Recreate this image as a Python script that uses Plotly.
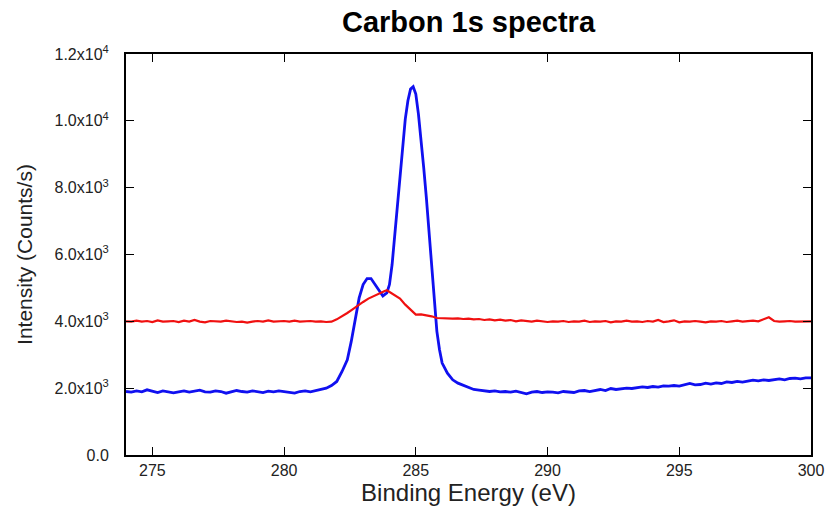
import plotly.graph_objects as go

# ---- data ----
blue_energy = [
    274.0, 274.2, 274.4, 274.6, 274.8, 275.0, 275.2, 275.4, 275.6, 275.8,
    276.0, 276.2, 276.4, 276.6, 276.8, 277.0, 277.2, 277.4, 277.6, 277.8,
    278.0, 278.2, 278.4, 278.6, 278.8, 279.0, 279.2, 279.4, 279.6, 279.8,
    280.0, 280.2, 280.4, 280.6, 280.8, 281.0, 281.2, 281.4, 281.6, 281.8,
    282.0, 282.2, 282.4, 282.55, 282.7, 282.85, 283.0, 283.15, 283.3, 283.45,
    283.6, 283.75, 283.9, 284.0, 284.1, 284.2, 284.3, 284.4, 284.5, 284.6,
    284.7, 284.8, 284.9, 285.0, 285.1, 285.2, 285.3, 285.4, 285.5, 285.6,
    285.7, 285.8, 285.9, 286.0, 286.2, 286.4, 286.6, 286.8, 287.0, 287.2,
    287.4, 287.6, 287.8, 288.0, 288.2, 288.4, 288.6, 288.8, 289.0, 289.2,
    289.4, 289.6, 289.8, 290.0, 290.2, 290.4, 290.6, 290.8, 291.0, 291.2,
    291.4, 291.6, 291.8, 292.0, 292.2, 292.4, 292.6, 292.8, 293.0, 293.2,
    293.4, 293.6, 293.8, 294.0, 294.2, 294.4, 294.6, 294.8, 295.0, 295.2,
    295.4, 295.6, 295.8, 296.0, 296.2, 296.4, 296.6, 296.8, 297.0, 297.2,
    297.4, 297.6, 297.8, 298.0, 298.2, 298.4, 298.6, 298.8, 299.0, 299.2,
    299.4, 299.6, 299.8, 300.0,
]
blue_counts = [
    1900, 1880, 1920, 1890, 1950, 1900, 1870, 1920, 1900, 1860,
    1890, 1920, 1880, 1900, 1940, 1890, 1880, 1920, 1900, 1850,
    1890, 1930, 1900, 1880, 1920, 1900, 1870, 1910, 1890, 1920,
    1900, 1880, 1850, 1900, 1920, 1890, 1930, 1960, 2000, 2080,
    2200, 2500, 2850, 3400, 4050, 4700, 5100, 5280, 5280, 5100,
    4900, 4760, 4850, 5100, 5700, 6540, 7400, 8340, 9200, 10050,
    10600, 10950, 11020, 10800, 10200, 9450, 8600, 7700, 6700, 5600,
    4500, 3700, 3150, 2750, 2450, 2250, 2150, 2080, 2020, 1960,
    1940, 1910, 1900, 1920, 1890, 1900, 1880, 1910, 1870, 1830,
    1880, 1900, 1870, 1890, 1880, 1860, 1900, 1890, 1870, 1920,
    1930, 1900, 1940, 1960, 1930, 1990, 1960, 1980, 2000, 1990,
    2010, 2040, 2020, 2050, 2030, 2070, 2060, 2080, 2060, 2090,
    2140, 2100, 2110, 2150, 2120, 2160, 2140, 2190, 2170, 2200,
    2180, 2210, 2240, 2220, 2250, 2230, 2260, 2280, 2250, 2290,
    2300, 2280, 2310, 2310,
]

red_energy = [
    274.0, 274.2, 274.4, 274.6, 274.8, 275.0, 275.2, 275.4, 275.6, 275.8,
    276.0, 276.2, 276.4, 276.6, 276.8, 277.0, 277.2, 277.4, 277.6, 277.8,
    278.0, 278.2, 278.4, 278.6, 278.8, 279.0, 279.2, 279.4, 279.6, 279.8,
    280.0, 280.2, 280.4, 280.6, 280.8, 281.0, 281.2, 281.4, 281.6, 281.8,
    282.0, 282.2, 282.4, 282.6, 282.8, 283.0, 283.2, 283.4, 283.6, 283.8,
    283.9, 284.0, 284.2, 284.4, 284.6, 284.8, 285.0, 285.2, 285.4, 285.6,
    285.8, 286.0, 286.2, 286.4, 286.6, 286.8, 287.0, 287.2, 287.4, 287.6,
    287.8, 288.0, 288.2, 288.4, 288.6, 288.8, 289.0, 289.2, 289.4, 289.6,
    289.8, 290.0, 290.2, 290.4, 290.6, 290.8, 291.0, 291.2, 291.4, 291.6,
    291.8, 292.0, 292.2, 292.4, 292.6, 292.8, 293.0, 293.2, 293.4, 293.6,
    293.8, 294.0, 294.2, 294.4, 294.6, 294.8, 295.0, 295.2, 295.4, 295.6,
    295.8, 296.0, 296.2, 296.4, 296.6, 296.8, 297.0, 297.2, 297.4, 297.6,
    297.8, 298.0, 298.2, 298.4, 298.6, 298.8, 299.0, 299.2, 299.4, 299.6,
    299.8, 300.0,
]
red_counts = [
    4000, 3990, 4020, 3990, 4010, 3980, 4030, 3990, 4000, 4010,
    3980, 4020, 3990, 4040, 3990, 3970, 4010, 4000, 3990, 4020,
    4000, 3980, 3990, 3960, 3990, 4010, 3990, 4030, 3990, 4000,
    4010, 3990, 4020, 3990, 4000, 4010, 3990, 4000, 3980, 3990,
    4060, 4150, 4250, 4360, 4480, 4580, 4680, 4760, 4840, 4900,
    4930, 4880, 4760, 4680, 4500, 4350, 4200, 4210, 4190, 4150,
    4100, 4090, 4100, 4080, 4090, 4070, 4080, 4060, 4070, 4040,
    4060, 4030, 4050, 4020, 4040, 4000, 4030, 4010, 3990, 4020,
    4000, 3980, 4000, 3990, 4010, 3980, 4000, 3990, 4020, 3980,
    4000, 3990, 4010, 3970, 4000, 3990, 4020, 3990, 4000, 3980,
    4010, 3990, 4040, 3980, 4000, 4030, 3970, 4000, 3990, 4010,
    3990, 3970, 4000, 3990, 4010, 3980, 4000, 4020, 3990, 4000,
    4020, 4000, 4060, 4120, 4010, 3990, 4000, 4010, 3990, 4000,
    3990, 4000,
]

y_tick_vals = [0, 2000, 4000, 6000, 8000, 10000, 12000]
y_tick_text = ["0.0", "2.0x10<sup>3</sup>", "4.0x10<sup>3</sup>", "6.0x10<sup>3</sup>",
               "8.0x10<sup>3</sup>", "1.0x10<sup>4</sup>", "1.2x10<sup>4</sup>"]
x_tick_vals = [275, 280, 285, 290, 295, 300]

fig = go.Figure()
fig.add_trace(go.Scatter(x=blue_energy, y=blue_counts, mode="lines",
                         line=dict(color="#1010F0", width=2.8), showlegend=False))
fig.add_trace(go.Scatter(x=red_energy, y=red_counts, mode="lines",
                         line=dict(color="#F01010", width=2.2), showlegend=False))

axis_common = dict(showline=True, linecolor="black", linewidth=2, mirror="ticks",
                   ticks="inside", ticklen=8, tickwidth=1.2, tickcolor="black",
                   showgrid=False, zeroline=False)

fig.update_layout(
    width=836, height=512,
    margin=dict(l=126, r=19, t=54, b=57),
    paper_bgcolor="white", plot_bgcolor="white",
    font=dict(family="Liberation Sans, Arial, sans-serif", color="black"),
    title=dict(text="<b>Carbon 1s spectra</b>", x=0.5, xref="paper",
               y=0.957, yanchor="middle", font=dict(size=29, color="black")),
    xaxis=dict(range=[274, 300], tickvals=x_tick_vals, tickfont=dict(size=16, color="#222"),
               title=dict(text="Binding Energy (eV)", font=dict(size=24, color="#222"), standoff=4),
               **axis_common),
    yaxis=dict(range=[0, 12000], tickvals=y_tick_vals, ticktext=y_tick_text,
               tickfont=dict(size=16, color="#222"), ticklabelstandoff=12,
               title=dict(text="Intensity (Counts/s)",
                          font=dict(size=21, color="#222"),
                          standoff=16),
               **axis_common),
)

fig.write_html("out.html")
